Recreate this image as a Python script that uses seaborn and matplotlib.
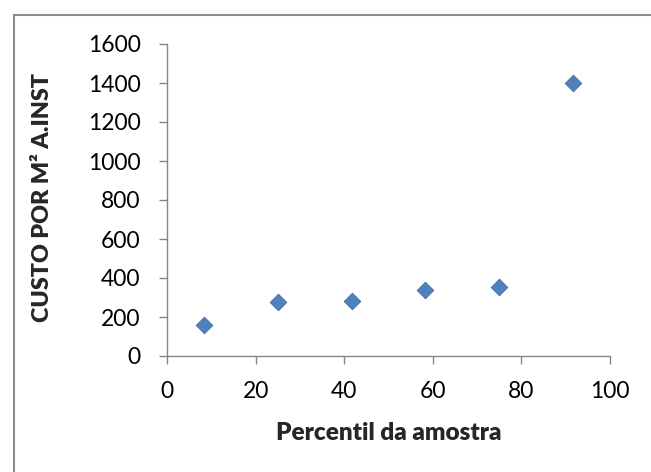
import matplotlib
matplotlib.use("Agg")
import matplotlib.pyplot as plt
from matplotlib.patches import Rectangle
import seaborn as sns
import pandas as pd

# Percentile of the sample vs. cost per m² of installed area
percentil = [8.33, 25.0, 41.67, 58.33, 75.0, 91.67]
custo = [157, 278, 281, 337, 352, 1400]
x_ticks = [0, 20, 40, 60, 80, 100]
y_ticks = [0, 200, 400, 600, 800, 1000, 1200, 1400, 1600]

df = pd.DataFrame({"percentil": percentil, "custo": custo})

sns.set_style("white")
plt.rcParams["font.family"] = ["Lato", "DejaVu Sans"]

W, H = 651, 472
x0, x1, y0, y1 = 167, 610, 356, 44
fig = plt.figure(figsize=(W / 100, H / 100), dpi=100)
ax = fig.add_axes([x0 / W, 1 - y0 / H, (x1 - x0) / W, (y0 - y1) / H])

sns.scatterplot(data=df, x="percentil", y="custo", marker="D", s=72,
                color="#4F81BD", edgecolor="#3F6FA8", linewidth=0.6, ax=ax,
                zorder=3)

ax.set_xlim(0, 100)
ax.set_ylim(0, 1600)
ax.set_xticks(x_ticks)
ax.set_yticks(y_ticks)
ax.set_xticklabels([str(v) for v in x_ticks])
ax.set_yticklabels([str(v) for v in y_ticks])

gray = "#868686"
for side in ["top", "right"]:
    ax.spines[side].set_visible(False)
for side in ["left", "bottom"]:
    ax.spines[side].set_color(gray)
    ax.spines[side].set_linewidth(1.0)

ax.tick_params(axis="both", direction="out", length=6, width=1.0,
               color=gray, labelsize=16.5, labelcolor="black")
ax.tick_params(axis="y", left=True, pad=13)
ax.tick_params(axis="x", bottom=True, pad=12)

ax.set_xlabel("Percentil da amostra", fontsize=17.5, fontweight="heavy")
ax.set_ylabel("CUSTO POR M² A.INST", fontsize=16.8, fontweight="heavy")
ax.xaxis.set_label_coords((388.5 - x0) / (x1 - x0), -(422 - y0) / (y0 - y1))
ax.yaxis.set_label_coords(-(x0 - 53) / (x1 - x0), (y0 - 197) / (y0 - y1))

# Chart-area frame
fig.patches.append(Rectangle((14 / W, -0.1), 1.2, 1.1 - 15 / H,
                             transform=fig.transFigure, fill=False,
                             edgecolor="#8C8C8C", linewidth=1.5, zorder=0))

fig.savefig("out.png", dpi=100)
